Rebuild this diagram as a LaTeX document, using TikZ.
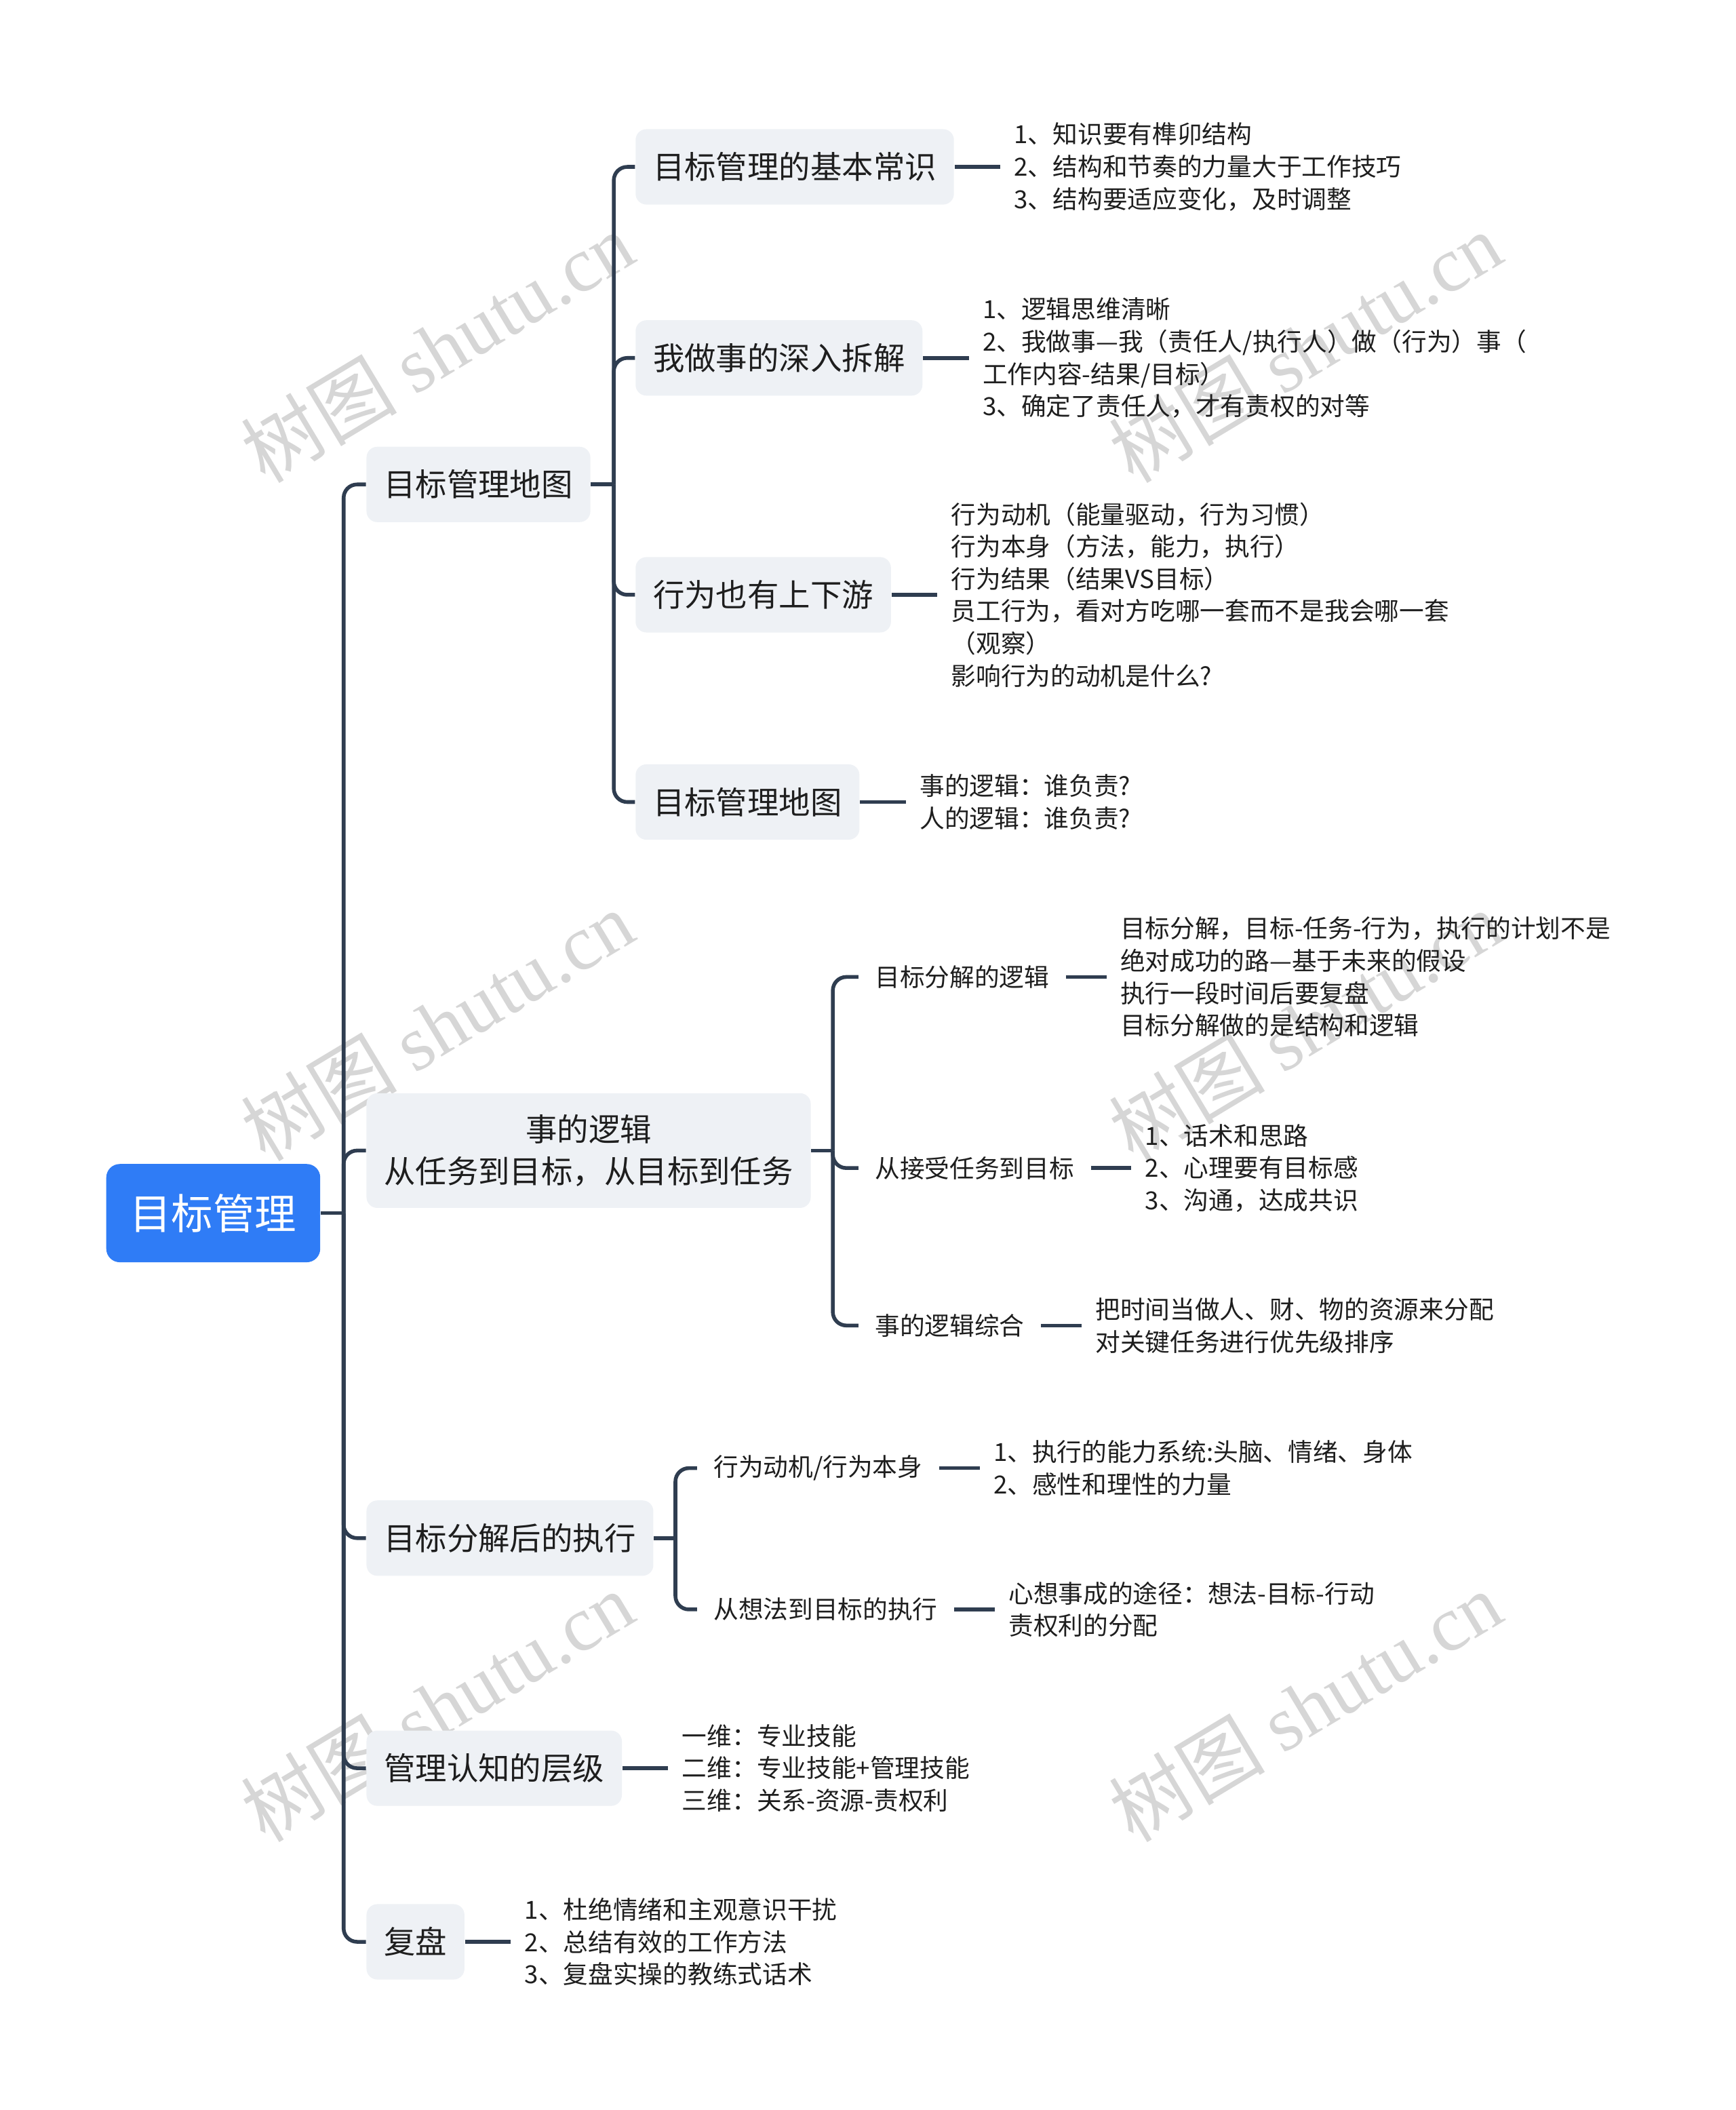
\documentclass[tikz,border=0pt]{standalone}
\usepackage{fontspec}
\setmainfont{Noto Sans CJK SC}
\newfontfamily\wmfont{Liberation Serif}
\usetikzlibrary{positioning}

\definecolor{linec}{HTML}{2F3D50}
\definecolor{boxfill}{HTML}{EEF1F5}
\definecolor{rootfill}{HTML}{2F7CF6}
\definecolor{inkc}{HTML}{1E1E1E}
\definecolor{wmc}{HTML}{D6D6D6}

\begin{document}
\begin{tikzpicture}[x=0.5pt, y=-0.5pt,
  rootbox/.style={rectangle, rounded corners=5pt, fill=rootfill, text=white,
                  minimum width=79.5pt, minimum height=36.5pt, inner xsep=8pt,
                  font=\fontsize{15.5}{19}\selectfont},
  catbox/.style={rectangle, rounded corners=4pt, fill=boxfill, text=inkc,
                 minimum height=28pt, inner xsep=6.5pt, inner ysep=6pt,
                 font=\fontsize{11.7}{15.5}\selectfont},
  plaintopic/.style={inner xsep=6pt, text=inkc, font=\fontsize{9.25}{12}\selectfont},
  leaftext/.style={inner xsep=5pt, inner ysep=0pt, align=left, text=inkc,
                   font=\fontsize{9.25}{12}\selectfont},
  conn/.style={draw=linec, line width=1.4pt, rounded corners=5pt},
  wmark/.style={text=wmc, rotate=31, font=\fontsize{29}{29}\selectfont}
]
\useasboundingbox (0,0) rectangle (1290,1568);

% Watermarks
\foreach \wx/\wy in {325/258, 970/258, 325/762, 970/762, 325/1268, 970/1268}
  \node[wmark] at (\wx,\wy) {树图 {\wmfont shutu.cn}};

% Root and main branches
\node[rootbox] (root) at (158.5,901.5) {目标管理};
\node[catbox, anchor=west] (map)    at (272,360)  {目标管理地图};
\node[catbox, anchor=west, align=center, inner ysep=8pt] (logic) at (272,855)
  {事的逻辑\\从任务到目标，从目标到任务};
\node[catbox, anchor=west] (exec)   at (272,1143) {目标分解后的执行};
\node[catbox, anchor=west] (level)  at (272,1314) {管理认知的层级};
\node[catbox, anchor=west] (review) at (272,1443) {复盘};

% Branch 1 topics
\node[catbox, anchor=west] (basics) at (472,124) {目标管理的基本常识};
\node[catbox, anchor=west] (split)  at (472,266) {我做事的深入拆解};
\node[catbox, anchor=west] (chain)  at (472,442) {行为也有上下游};
\node[catbox, anchor=west] (map2)   at (472,596) {目标管理地图};

% Branch 2 topics
\node[plaintopic, anchor=west] (decomp) at (638,726) {目标分解的逻辑};
\node[plaintopic, anchor=west] (accept) at (638,868) {从接受任务到目标};
\node[plaintopic, anchor=west] (combo)  at (638,985) {事的逻辑综合};

% Branch 3 topics
\node[plaintopic, anchor=west] (motive) at (518,1091) {行为动机/行为本身};
\node[plaintopic, anchor=west] (idea)   at (518,1196) {从想法到目标的执行};

% Leaves
\node[leaftext, right=17pt of basics] (basics-l)
  {1、知识要有榫卯结构\\2、结构和节奏的力量大于工作技巧\\3、结构要适应变化，及时调整};
\node[leaftext, right=17pt of split] (split-l)
  {1、逻辑思维清晰\\2、我做事—我（责任人/执行人）做（行为）事（\\工作内容-结果/目标）\\3、确定了责任人，才有责权的对等};
\node[leaftext, right=17pt of chain] (chain-l)
  {行为动机（能量驱动，行为习惯）\\行为本身（方法，能力，执行）\\行为结果（结果VS目标）\\员工行为，看对方吃哪一套而不是我会哪一套\\（观察）\\影响行为的动机是什么?};
\node[leaftext, right=17pt of map2] (map2-l)
  {事的逻辑：谁负责?\\人的逻辑：谁负责?};
\node[leaftext, right=15pt of decomp] (decomp-l)
  {目标分解，目标-任务-行为，执行的计划不是\\绝对成功的路—基于未来的假设\\执行一段时间后要复盘\\目标分解做的是结构和逻辑};
\node[leaftext, right=15pt of accept] (accept-l)
  {1、话术和思路\\2、心理要有目标感\\3、沟通，达成共识};
\node[leaftext, right=15pt of combo] (combo-l)
  {把时间当做人、财、物的资源来分配\\对关键任务进行优先级排序};
\node[leaftext, right=15pt of motive] (motive-l)
  {1、执行的能力系统:头脑、情绪、身体\\2、感性和理性的力量};
\node[leaftext, right=15pt of idea] (idea-l)
  {心想事成的途径：想法-目标-行动\\责权利的分配};
\node[leaftext, right=17pt of level] (level-l)
  {一维：专业技能\\二维：专业技能+管理技能\\三维：关系-资源-责权利};
\node[leaftext, right=17pt of review] (review-l)
  {1、杜绝情绪和主观意识干扰\\2、总结有效的工作方法\\3、复盘实操的教练式话术};

% Connectors
\draw[conn] (root.east) -- ++(17,0) coordinate (t0);
\foreach \n in {map,logic,exec,level,review} \draw[conn] (t0) |- (\n.west);
\draw[conn] (map.east) -- ++(17,0) coordinate (t1);
\foreach \n in {basics,split,chain,map2} \draw[conn] (t1) |- (\n.west);
\draw[conn] (logic.east) -- ++(16,0) coordinate (t2);
\foreach \n in {decomp,accept,combo} \draw[conn] (t2) |- (\n.west);
\draw[conn] (exec.east) -- ++(16,0) coordinate (t3);
\foreach \n in {motive,idea} \draw[conn] (t3) |- (\n.west);
\foreach \a in {basics,split,chain,map2,decomp,accept,combo,motive,idea,level,review}
  \draw[conn] (\a.east) -- (\a-l.west);

\end{tikzpicture}
\end{document}
